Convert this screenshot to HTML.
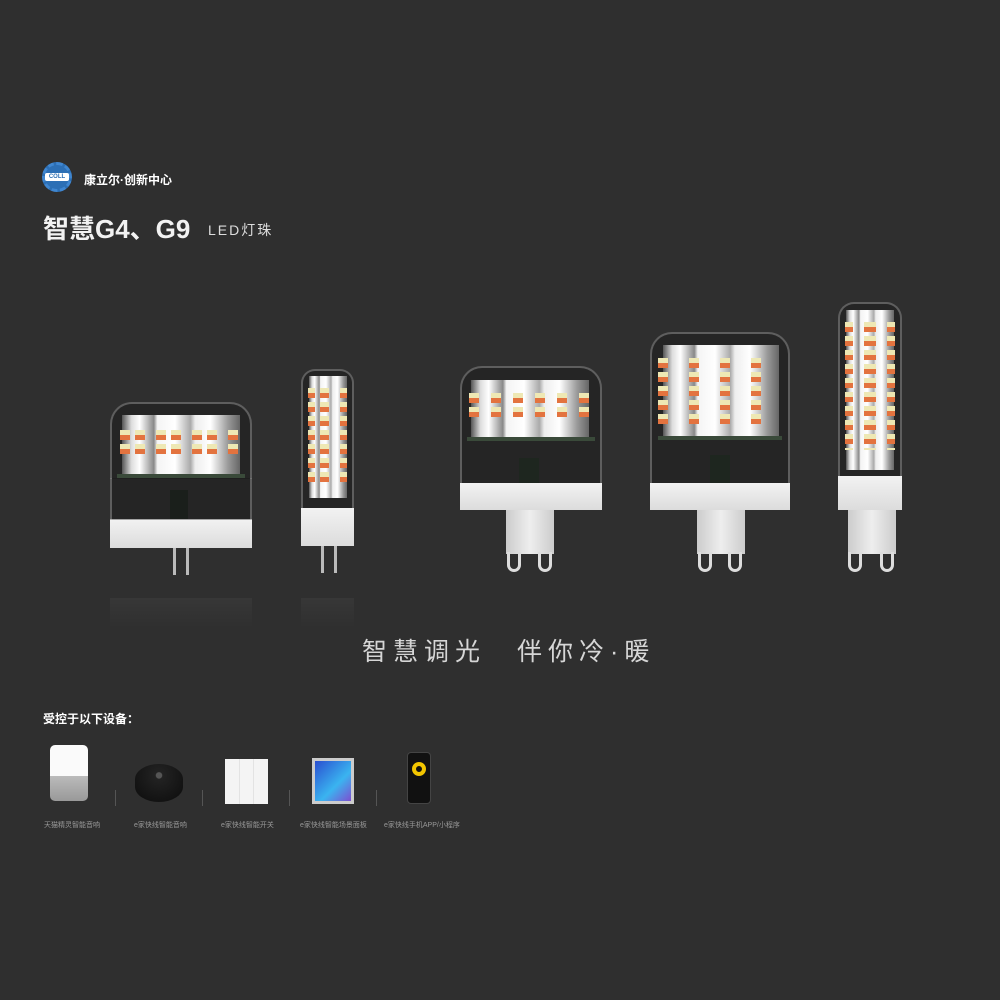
<!DOCTYPE html>
<html><head><meta charset="utf-8"><style>
*{margin:0;padding:0;box-sizing:border-box}
body{width:1000px;height:1000px;background:#2f2f2f;position:relative;overflow:hidden;font-family:"Liberation Sans","Noto Sans CJK SC",sans-serif;color:#eee}
.a{position:absolute}
.glass{position:absolute;border:2px solid rgba(200,200,200,.35);background:rgba(20,20,20,.35);border-radius:22px 22px 0 0;border-bottom:none}
.metal{position:absolute;background:linear-gradient(90deg,#555 0%,#ddd 8%,#fff 15%,#888 27%,#f4f4f4 30%,#fff 45%,#aaa 58%,#eee 62%,#fff 75%,#999 90%,#666 100%)}
.base{position:absolute;background:linear-gradient(#f2f2f2,#dcdcdc);}
.led{position:absolute;background:repeating-linear-gradient(to bottom,#eee8b4 0 5px,#e3733f 5px 10px,transparent 10px 14px)}
.pin{position:absolute;background:#bbb;width:3px}
.loop{position:absolute;border:3px solid #ddd;border-top:none;border-radius:0 0 8px 8px;width:14px}
.stem{position:absolute;background:linear-gradient(90deg,#ccc,#eee,#ccc)}
.pcb{position:absolute;background:#3a4a3a;height:4px}
.dark{position:absolute;background:#1e261f}
.cap{font-size:7px;color:#999;position:absolute;top:820px;white-space:nowrap}
.sep{position:absolute;top:790px;width:1px;height:16px;background:#555}
</style></head><body>
<!-- logo -->
<div class="a" style="left:42px;top:162px;width:30px;height:30px;border-radius:50%;background:#2c6fb5;border:3px dashed #3f86d0"></div>
<div class="a" style="left:45px;top:173px;width:24px;height:8px;background:#fff;border-radius:2px;color:#2c6fb5;font-size:6px;font-weight:bold;text-align:center;line-height:8px">COLL</div>
<div class="a" style="left:84px;top:171px;font-size:12px;font-weight:bold;color:#fff">康立尔·创新中心</div>
<div class="a" style="left:43px;top:209px;font-size:26px;font-weight:bold;color:#f2f2f2;letter-spacing:0">智慧G4、G9</div>
<div class="a" style="left:208px;top:220px;font-size:14px;color:#ddd;letter-spacing:2px">LED灯珠</div>

<!-- bulb1 -->
<div class="glass" style="left:110px;top:402px;width:142px;height:77px"></div>
<div class="metal" style="left:122px;top:415px;width:118px;height:60px"></div>
<div class="led" style="left:120px;top:430px;width:122px;height:24px;-webkit-mask:repeating-linear-gradient(90deg,#000 0 10px,transparent 10px 15px,#000 15px 25px,transparent 25px 36px);mask:repeating-linear-gradient(90deg,#000 0 10px,transparent 10px 15px,#000 15px 25px,transparent 25px 36px)"></div>
<div class="pcb" style="left:117px;top:474px;width:128px"></div>
<div class="dark" style="left:170px;top:490px;width:18px;height:30px"></div>
<div class="base" style="left:110px;top:519px;width:142px;height:29px"></div>
<div class="glass" style="left:110px;top:478px;width:142px;height:42px;border-radius:0;border-top:none"></div>
<div class="pin" style="left:173px;top:548px;height:27px"></div>
<div class="pin" style="left:186px;top:548px;height:27px"></div>

<!-- bulb2 -->
<div class="glass" style="left:301px;top:369px;width:53px;height:140px;border-radius:14px 14px 0 0"></div>
<div class="metal" style="left:309px;top:376px;width:38px;height:122px"></div>
<div class="led" style="left:308px;top:388px;width:40px;height:96px;mask:repeating-linear-gradient(90deg,#000 0 7px,transparent 7px 12px,#000 12px 21px,transparent 21px 32px);-webkit-mask:repeating-linear-gradient(90deg,#000 0 7px,transparent 7px 12px,#000 12px 21px,transparent 21px 32px)"></div>
<div class="base" style="left:301px;top:508px;width:53px;height:38px"></div>
<div class="pin" style="left:321px;top:546px;height:27px"></div>
<div class="pin" style="left:334px;top:546px;height:27px"></div>

<!-- bulb3 -->
<div class="glass" style="left:460px;top:366px;width:142px;height:117px"></div>
<div class="metal" style="left:471px;top:380px;width:118px;height:58px"></div>
<div class="led" style="left:469px;top:393px;width:122px;height:26px;mask:repeating-linear-gradient(90deg,#000 0 10px,transparent 10px 22px);-webkit-mask:repeating-linear-gradient(90deg,#000 0 10px,transparent 10px 22px)"></div>
<div class="pcb" style="left:467px;top:437px;width:128px"></div>
<div class="dark" style="left:519px;top:458px;width:20px;height:25px"></div>
<div class="base" style="left:460px;top:483px;width:142px;height:27px"></div>
<div class="stem" style="left:506px;top:510px;width:48px;height:44px"></div>
<div class="loop" style="left:507px;top:552px;height:20px"></div>
<div class="loop" style="left:538px;top:552px;height:20px"></div>

<!-- bulb4 -->
<div class="glass" style="left:650px;top:332px;width:140px;height:151px"></div>
<div class="metal" style="left:663px;top:345px;width:116px;height:92px"></div>
<div class="led" style="left:658px;top:358px;width:124px;height:68px;mask:repeating-linear-gradient(90deg,#000 0 10px,transparent 10px 31px);-webkit-mask:repeating-linear-gradient(90deg,#000 0 10px,transparent 10px 31px)"></div>
<div class="pcb" style="left:658px;top:436px;width:124px"></div>
<div class="dark" style="left:710px;top:455px;width:20px;height:28px"></div>
<div class="base" style="left:650px;top:483px;width:140px;height:27px"></div>
<div class="stem" style="left:697px;top:510px;width:48px;height:44px"></div>
<div class="loop" style="left:698px;top:552px;height:20px"></div>
<div class="loop" style="left:728px;top:552px;height:20px"></div>

<!-- bulb5 -->
<div class="glass" style="left:838px;top:302px;width:64px;height:175px;border-radius:16px 16px 0 0"></div>
<div class="metal" style="left:846px;top:310px;width:48px;height:160px"></div>
<div class="led" style="left:845px;top:322px;width:50px;height:128px;mask:repeating-linear-gradient(90deg,#000 0 8px,transparent 8px 19px,#000 19px 31px,transparent 31px 42px,#000 42px 50px);-webkit-mask:repeating-linear-gradient(90deg,#000 0 8px,transparent 8px 19px,#000 19px 31px,transparent 31px 42px,#000 42px 50px)"></div>
<div class="base" style="left:838px;top:476px;width:64px;height:34px"></div>
<div class="stem" style="left:848px;top:510px;width:48px;height:44px"></div>
<div class="loop" style="left:848px;top:552px;height:20px"></div>
<div class="loop" style="left:880px;top:552px;height:20px"></div>

<!-- reflections -->
<div class="a" style="left:110px;top:598px;width:142px;height:30px;background:linear-gradient(rgba(255,255,255,.04),transparent)"></div>
<div class="a" style="left:301px;top:598px;width:53px;height:30px;background:linear-gradient(rgba(255,255,255,.04),transparent)"></div>

<div class="a" style="left:362px;top:632px;font-size:25px;color:#d6d6d6;letter-spacing:6px;white-space:nowrap">智慧调光　伴你冷·暖</div>

<div class="a" style="left:43px;top:710px;font-size:12px;font-weight:bold;color:#fff">受控于以下设备：</div>

<!-- devices -->
<div class="a" style="left:50px;top:745px;width:38px;height:56px;border-radius:5px;background:linear-gradient(#fafafa 0 55%,#bbb 55%,#999 100%)"></div>
<div class="a" style="left:135px;top:764px;width:48px;height:38px;border-radius:50%/40%;background:radial-gradient(circle at 50% 30%,#555 0 8%,#222 10%,#111 80%)"></div>
<div class="a" style="left:225px;top:759px;width:43px;height:45px;background:linear-gradient(90deg,#f4f4f4 0 32%,#ccc 33%,#f4f4f4 34% 65%,#ccc 66%,#f4f4f4 67%)"></div>
<div class="a" style="left:312px;top:758px;width:42px;height:46px;background:#ccc;padding:3px"><div style="width:100%;height:100%;background:linear-gradient(135deg,#2a4fd0,#3ab4f0 60%,#7d4fd0)"></div></div>
<div class="a" style="left:407px;top:752px;width:24px;height:52px;border-radius:4px;background:#111;border:1px solid #444"><div style="margin:9px auto 0;width:14px;height:14px;border-radius:50%;border:4px solid #f2c500"></div></div>
<div class="sep" style="left:115px"></div><div class="sep" style="left:202px"></div><div class="sep" style="left:289px"></div><div class="sep" style="left:376px"></div>
<div class="cap" style="left:44px">天猫精灵智能音响</div>
<div class="cap" style="left:134px">e家快线智能音响</div>
<div class="cap" style="left:221px">e家快线智能开关</div>
<div class="cap" style="left:300px">e家快线智能场景面板</div>
<div class="cap" style="left:384px">e家快线手机APP/小程序</div>
</body></html>
